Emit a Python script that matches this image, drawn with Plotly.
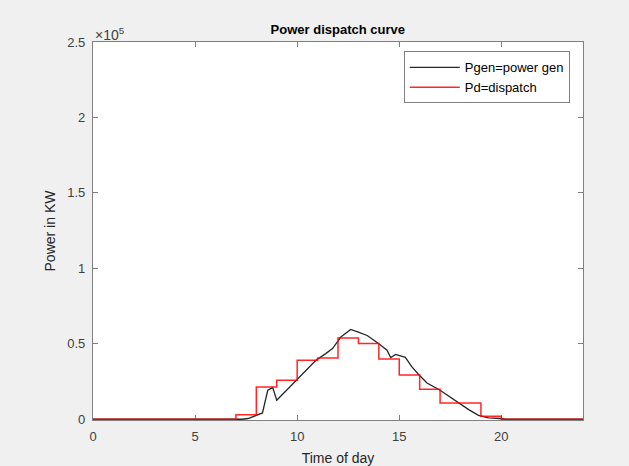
import plotly.graph_objects as go

# generated power (black)
gen_time = [0, 7.3, 7.6, 8.0, 8.3, 8.56, 8.8, 9.0, 9.5, 10.0, 10.5, 10.92, 11.4,
            11.73, 12.14, 12.62, 13.03, 13.43, 14.0, 14.4, 14.58, 14.82, 15.3,
            15.6, 15.96, 16.36, 17.0, 17.42, 17.9, 18.4, 18.88, 19.37, 19.94,
            20.2, 24]
gen_power = [0, 0, 500, 2500, 4200, 19200, 21000, 12600, 19500, 26000, 33000,
             39100, 43500, 46800, 54500, 59500, 57500, 55500, 50100, 45700,
             40900, 43000, 41000, 35000, 29500, 24000, 19200, 15400, 10800,
             6400, 2600, 900, 500, 0, 0]

# hourly dispatch (red), held constant over each hour
dispatch_hour = list(range(25))
dispatch_power = [0, 0, 0, 0, 0, 0, 0, 3000, 21400, 25900, 39100, 40600, 53900,
                  50200, 40000, 29400, 19900, 10800, 10800, 2000, 0, 0, 0, 0, 0]

x_ticks = [0, 5, 10, 15, 20]
y_ticks = [0, 50000, 100000, 150000, 200000, 250000]
y_tick_labels = ['0', '0.5', '1', '1.5', '2', '2.5']

fig = go.Figure()

fig.add_trace(go.Scatter(
    x=gen_time, y=gen_power, mode='lines', name='Pgen=power gen',
    line=dict(color='#262626', width=1.3)
))
fig.add_trace(go.Scatter(
    x=dispatch_hour, y=dispatch_power, mode='lines', name='Pd=dispatch',
    line=dict(color='rgba(255,0,0,0.85)', width=1.5, shape='hv')
))

axis_style = dict(
    showgrid=False, zeroline=False, showline=True, linecolor='#808080',
    linewidth=1.3, mirror='ticks', ticks='inside', ticklen=5,
    tickcolor='#808080', tickfont=dict(size=13, color='#404040'),
    automargin=False, layer='below traces',
)

fig.update_xaxes(range=[0, 24], tickvals=x_ticks, ticklabelstandoff=4,
                 title=dict(text='Time of day', font=dict(size=14, color='#262626'), standoff=12),
                 **axis_style)
fig.update_yaxes(range=[-500, 250000], tickvals=y_ticks, ticktext=y_tick_labels,
                 ticklabelstandoff=4,
                 title=dict(text='Power in KW', font=dict(size=14, color='#262626'), standoff=8),
                 **axis_style)

fig.add_annotation(
    text='\u00d710<sup>5</sup>', xref='paper', yref='paper', x=0, y=1,
    xanchor='left', yanchor='bottom', showarrow=False,
    font=dict(size=14, color='#404040'), yshift=-3
)

fig.update_layout(
    width=629, height=466,
    margin=dict(l=93, r=46, t=42, b=46),
    paper_bgcolor='#f0f0f0', plot_bgcolor='white',
    font=dict(family='Liberation Sans, Arial, sans-serif'),
    title=dict(text='<b>Power dispatch curve</b>', x=0.537, xanchor='center',
               y=0.937, yanchor='middle', font=dict(size=13, color='#000000')),
    legend=dict(x=0.973, y=0.975, xanchor='right', yanchor='top',
                bgcolor='white', bordercolor='#808080', borderwidth=1,
                itemwidth=50,
                font=dict(size=13, color='#000000'), tracegroupgap=0),
    showlegend=True,
)

fig.write_html("out.html", config={'displayModeBar': False},
               post_script="document.body.style.margin='0';")
